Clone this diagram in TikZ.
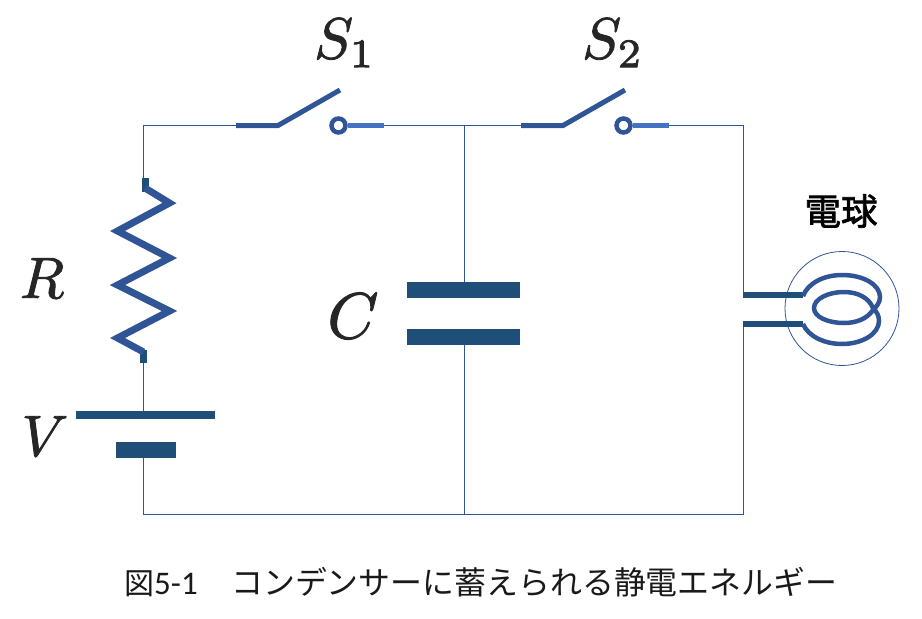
\documentclass[tikz,border=0pt]{standalone}
\usepackage{fontspec}
\setsansfont{Carlito}
\newfontfamily\jpfont{Noto Sans CJK JP}
\definecolor{wireblue}{HTML}{2F5597}
\definecolor{plateblue}{HTML}{1F4E79}
\definecolor{contactblue}{HTML}{4472C4}
\newcommand{\heavysymb}[1]{\special{pdf:code 2 Tr 0.15 w}#1\special{pdf:code 0 Tr}}
\tikzset{
    wire/.style={wireblue,line width=1pt},
    thickwire/.style={wireblue,line width=5pt},
    plate/.style={draw=none,fill=plateblue,inner sep=0pt,minimum width=#1},
    symb/.style={text=black!85,scale=5.8,inner sep=0pt},
}
\begin{document}
\begin{tikzpicture}[x=1pt,y=-1pt]
    \useasboundingbox (0,0) rectangle (922,619);
    %% corners
    \coordinate (TL) at (143,125.5);
    \coordinate (TM) at (464,125.5);
    \coordinate (TR) at (743,125.5);
    \coordinate (BL) at (143,514);
    \coordinate (BM) at (464,514);
    \coordinate (BR) at (743,514);
    %% wires
    \coordinate (Rt) at (143,178);
    \coordinate (Rb) at (143,363);
    \coordinate (Vt) at (143,415);
    \coordinate (Vb) at (143,450);
    \draw[wire] (Rt) -- (TL) -- (236,125.5);
    \draw[wire] (Rb) -- (Vt);
    \draw[wire] (Vb) -- (BL) -- (BR) -- (743,324);
    \draw[wire] (384,125.5) -- (521,125.5);
    \draw[wire] (669,125.5) -- (TR) -- (743,295);
    \draw[wire] (TM) -- (464,290);
    \draw[wire] (464,337) -- (BM);
    %% battery
    \node[plate=139pt,minimum height=8pt] (Vp) at (145.5,415) {};
    \node[plate=60pt,minimum height=16pt] (Vn) at (146,450) {};
    %% capacitor
    \node[plate=113pt,minimum height=16pt] (Cp) at (463.5,290) {};
    \node[plate=113pt,minimum height=16pt] (Cn) at (463.5,337) {};
    %% resistor
    \draw[plateblue,line width=7pt] (145,178) -- ++(0,14);
    \draw[plateblue,line width=7pt] (143.5,363) -- ++(0,-13);
    \draw[thickwire,line width=7pt,miter limit=10] (145,188) -- (169.5,203) -- (117.5,231) -- (169.5,258)
        -- (117.5,285) -- (169.5,311) -- (117.5,338) -- (143.5,352);
    %% switches
    \foreach \dx/\name in {0/a,285/b}{
        \coordinate (S\name l) at (236+\dx,125.5);
        \coordinate (S\name h) at (278+\dx,125.5);
        \coordinate (S\name t) at (340+\dx,90);
        \coordinate (S\name r) at (384+\dx,125.5);
        \node[circle,draw=wireblue,line width=4.5pt,fill=white,minimum size=14pt,inner sep=0pt] (S\name c) at (338.5+\dx,125.5) {};
        \draw[thickwire] (S\name l) -- (S\name h) -- (S\name t);
        \draw[contactblue,line width=5pt] (S\name c) -- (S\name r);
    }
    %% bulb
    \node[circle,draw=wireblue,line width=0.8pt,minimum size=114pt,inner sep=0pt] (bulb) at (842,308.5) {};
    \coordinate (La) at (743,295);
    \coordinate (Lb) at (743,324);
    \coordinate (Ca) at (803,295);
    \coordinate (Cb) at (803,324);
    \draw[plateblue,line width=5.5pt] (La) -- (Ca);
    \draw[plateblue,line width=5.5pt] (Lb) -- (Cb);
    \draw[wireblue,line width=4.5pt] (803,296) .. controls (808,283) and (824,275) .. (842,275)
        .. controls (864,275) and (880,285) .. (880,297)
        .. controls (880,303) and (876,307) .. (873,310)
        .. controls (867,319) and (856,323) .. (844,323)
        .. controls (828,323) and (814,317) .. (814,308)
        .. controls (814,299) and (828,292) .. (844,292)
        .. controls (858,292) and (869,298) .. (873,308)
        .. controls (877,312) and (879,316) .. (879,321)
        .. controls (879,334) and (862,344) .. (842,344)
        .. controls (824,344) and (808,336) .. (803,324);
    %% labels
    \node[symb] (S1) at (345,43) {\heavysymb{$S_1$}};
    \node[symb] (S2) at (613,43) {\heavysymb{$S_2$}};
    \node[symb] (R) at (42,278) {\heavysymb{$R$}};
    \node[symb] (V) at (45,436) {\heavysymb{$V$}};
    \node[symb,scale=1.12] (C) at (353,316) {\heavysymb{$C$}};
    \node[inner sep=0pt] (lamp) at (841,211) {\jpfont\fontsize{36.5}{36.5}\selectfont\addfontfeature{FakeBold=2}電球};
    %% caption
    \node[anchor=west,inner sep=0pt,text=black!90] (cap) at (124,582) {\jpfont\fontsize{30}{30}\selectfont 図{\sffamily\fontsize{33}{33}\selectfont 5-1}\hspace{33.5pt}\fontsize{31.9}{32}\selectfont コンデンサーに蓄えられる静電エネルギー};
\end{tikzpicture}
\end{document}
